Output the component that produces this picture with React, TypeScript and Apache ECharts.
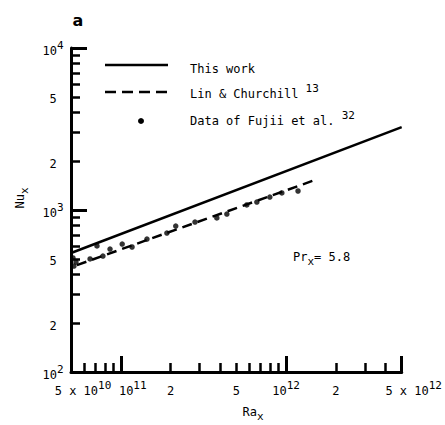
import React, { useEffect, useRef } from 'react';
import * as echarts from 'echarts';

// ---- data ----
const raThisWork = [5e10, 5e12];
const nuThisWork = [543, 3250];

const raLinChurchill = [5.43e10, 1.49e12];
const nuLinChurchill = [457, 1530];

const raFujii = [
  5.14e10, 5.21e10, 5.36e10, 6.52e10, 7.18e10, 7.8e10, 8.61e10, 1.02e11, 1.17e11, 1.44e11,
  1.9e11, 2.15e11, 2.81e11, 3.81e11, 4.38e11, 5.78e11, 6.65e11, 7.97e11, 9.42e11, 1.18e12,
];
const nuFujii = [
  506, 451, 477, 499, 600, 520, 574, 616, 591, 662,
  721, 796, 843, 893, 944, 1074, 1120, 1202, 1274, 1310,
];

const xTickValues = [5e10, 2e11, 5e11, 1e12, 2e12, 5e12];
const xTickLabels = ['5 x 10^10', '2', '5', '10^12', '2', '5 x 10^12'];
const xExtraTickValues = [1e11];
const xExtraTickLabels = ['10^11'];
const yTickValues = [1e2, 2e2, 5e2, 1e3, 2e3, 5e3, 1e4];
const yTickLabels = ['10^2', '2', '5', '10^3', '2', '5', '10^4'];

const xMinorTicks = [
  6e10, 7e10, 8e10, 9e10,
  2e11, 3e11, 4e11, 5e11, 6e11, 7e11, 8e11, 9e11,
  2e12, 3e12, 4e12,
];
const xMajorTicks = [1e11, 1e12, 5e12];
const yMinorTicks = [
  2e2, 3e2, 4e2, 5e2, 6e2, 7e2, 8e2, 9e2,
  2e3, 3e3, 4e3, 5e3, 6e3, 7e3, 8e3, 9e3,
];
const yMajorTicks = [1e3, 1e4];

const legendNames = ['This work', 'Lin & Churchill ^13', 'Data of Fujii et al. ^32'];

const FONT = '"DejaVu Sans Mono", "Liberation Mono", monospace';
const lg = Math.log10;

const richStyles = {
  b: { fontFamily: FONT, fontSize: 12, lineHeight: 17, verticalAlign: 'bottom', color: '#000' },
  s: { fontFamily: FONT, fontSize: 11, lineHeight: 11, verticalAlign: 'top', color: '#000' },
  pb: { fontFamily: FONT, fontSize: 12, lineHeight: 17, verticalAlign: 'bottom', color: '#000', padding: [0, 0, 0, 24] },
  sub: { fontFamily: FONT, fontSize: 11, lineHeight: 10, verticalAlign: 'bottom', color: '#000' },
  t: { fontFamily: FONT, fontSize: 12, lineHeight: 16, verticalAlign: 'top', color: '#000' },
};

const sup = (s: string, cls = 'b') => {
  const [b, e] = s.split('^');
  return e ? `{${cls}|${b}}{s|${e}}` : `{${cls}|${b}}`;
};

const nearestIdx = (arr: number[], v: number) => {
  let best = 0;
  for (let i = 0; i < arr.length; i++) {
    if (Math.abs(lg(arr[i]) - v) < Math.abs(lg(arr[best]) - v)) best = i;
  }
  return best;
};

export default function App() {
  const ref = useRef<HTMLDivElement>(null);
  useEffect(() => {
    if (!ref.current) return;
    const chart = echarts.init(ref.current, null, { renderer: 'svg' });
    const xMin = lg(xTickValues[0]);
    const xMax = lg(xTickValues[xTickValues.length - 1]);
    const yMin = lg(yTickValues[0]);
    const yMax = lg(yTickValues[yTickValues.length - 1]);
    const axisLine = { show: true, lineStyle: { color: '#000', width: 3 } };

    const option: any = {
      animation: false,
      backgroundColor: '#fff',
      grid: { left: 71, right: 43, top: 48, bottom: 53 },
      xAxis: [
        {
          type: 'value',
          min: xMin,
          max: xMax,
          axisLine,
          splitLine: { show: false },
          axisTick: {
            show: true,
            inside: true,
            length: 9,
            lineStyle: { color: '#000', width: 2.5 },
            customValues: xMinorTicks.map(lg),
          },
          axisLabel: {
            show: true,
            margin: 8,
            hideOverlap: false,
            showMinLabel: true,
            showMaxLabel: true,
            customValues: xTickValues.map(lg),
            formatter: (v: number) => {
              const i = nearestIdx(xTickValues, v);
              const shifted = i === 0 || i === xTickValues.length - 1;
              return sup(xTickLabels[i], shifted ? 'pb' : 'b');
            },
            rich: richStyles,
          },
        },
        {
          type: 'value',
          min: xMin,
          max: xMax,
          position: 'bottom',
          axisLine: { show: false },
          splitLine: { show: false },
          axisLabel: {
            show: true,
            margin: 8,
            hideOverlap: false,
            customValues: xExtraTickValues.map(lg),
            formatter: (v: number) => sup(xExtraTickLabels[nearestIdx(xExtraTickValues, v)], 'pb'),
            rich: richStyles,
          },
          axisTick: {
            show: true,
            inside: true,
            length: 16,
            lineStyle: { color: '#000', width: 3 },
            customValues: xMajorTicks.map(lg),
          },
        },
      ],
      yAxis: [
        {
          type: 'value',
          min: yMin,
          max: yMax,
          axisLine,
          splitLine: { show: false },
          axisTick: {
            show: true,
            inside: true,
            length: 9,
            lineStyle: { color: '#000', width: 2.5 },
            customValues: yMinorTicks.map(lg),
          },
          axisLabel: {
            show: true,
            margin: 18,
            align: 'center',
            hideOverlap: false,
            showMinLabel: true,
            showMaxLabel: true,
            customValues: yTickValues.map(lg),
            formatter: (v: number) => sup(yTickLabels[nearestIdx(yTickValues, v)]),
            rich: richStyles,
          },
        },
        {
          type: 'value',
          min: yMin,
          max: yMax,
          position: 'left',
          axisLine: { show: false },
          splitLine: { show: false },
          axisLabel: { show: false },
          axisTick: {
            show: true,
            inside: true,
            length: 16,
            lineStyle: { color: '#000', width: 3 },
            customValues: yMajorTicks.map(lg),
          },
        },
      ],
      series: [
        {
          name: legendNames[0],
          type: 'line',
          xAxisIndex: 0,
          yAxisIndex: 0,
          showSymbol: false,
          symbol: 'none',
          lineStyle: { color: '#000', width: 2.5 },
          data: raThisWork.map((r, i) => [lg(r), lg(nuThisWork[i])]),
        },
        {
          name: legendNames[1],
          type: 'line',
          xAxisIndex: 0,
          yAxisIndex: 0,
          showSymbol: false,
          symbol: 'none',
          lineStyle: { color: '#000', width: 2.5, type: [10, 6] },
          data: raLinChurchill.map((r, i) => [lg(r), lg(nuLinChurchill[i])]),
        },
        {
          name: legendNames[2],
          type: 'scatter',
          xAxisIndex: 0,
          yAxisIndex: 0,
          symbol: 'circle',
          symbolSize: 5.5,
          itemStyle: { color: '#000' },
          data: raFujii.map((r, i) => [lg(r), lg(nuFujii[i])]),
        },
      ],
      graphic: [
        {
          type: 'text',
          x: 78,
          y: 20,
          style: { text: 'a', font: 'bold 16px "DejaVu Sans", sans-serif', fill: '#000', align: 'center', verticalAlign: 'middle' },
        },
        // legend
        { type: 'line', shape: { x1: 105, y1: 65, x2: 168, y2: 65 }, style: { stroke: '#000', lineWidth: 2.5 } },
        { type: 'line', shape: { x1: 105, y1: 92, x2: 170, y2: 92 }, style: { stroke: '#000', lineWidth: 2.5, lineDash: [11, 6] } },
        { type: 'circle', shape: { cx: 141, cy: 121, r: 3 }, style: { fill: '#000' } },
        {
          type: 'text', x: 190, y: 66,
          style: { text: sup(legendNames[0]), rich: richStyles, align: 'left', verticalAlign: 'middle' },
        },
        {
          type: 'text', x: 190, y: 91,
          style: { text: sup(legendNames[1]), rich: richStyles, align: 'left', verticalAlign: 'middle' },
        },
        {
          type: 'text', x: 190, y: 118,
          style: { text: sup(legendNames[2]), rich: richStyles, align: 'left', verticalAlign: 'middle' },
        },
        // annotation
        {
          type: 'text', x: 293, y: 259,
          style: { text: '{t|Pr}{sub|x}{t|= 5.8}', rich: richStyles, align: 'left', verticalAlign: 'middle' },
        },
        // axis names
        {
          type: 'text', x: 22, y: 198, rotation: Math.PI / 2,
          style: { text: '{t|Nu}{sub|x}', rich: richStyles, align: 'center', verticalAlign: 'middle' },
        },
        {
          type: 'text', x: 253, y: 414,
          style: { text: '{t|Ra}{sub|x}', rich: richStyles, align: 'center', verticalAlign: 'middle' },
        },
      ],
    };
    chart.setOption(option);
    return () => chart.dispose();
  }, []);
  return (
    <div
      ref={ref}
      style={{ position: 'fixed', left: 0, top: 0, width: 445, height: 425, background: '#fff' }}
    />
  );
}
